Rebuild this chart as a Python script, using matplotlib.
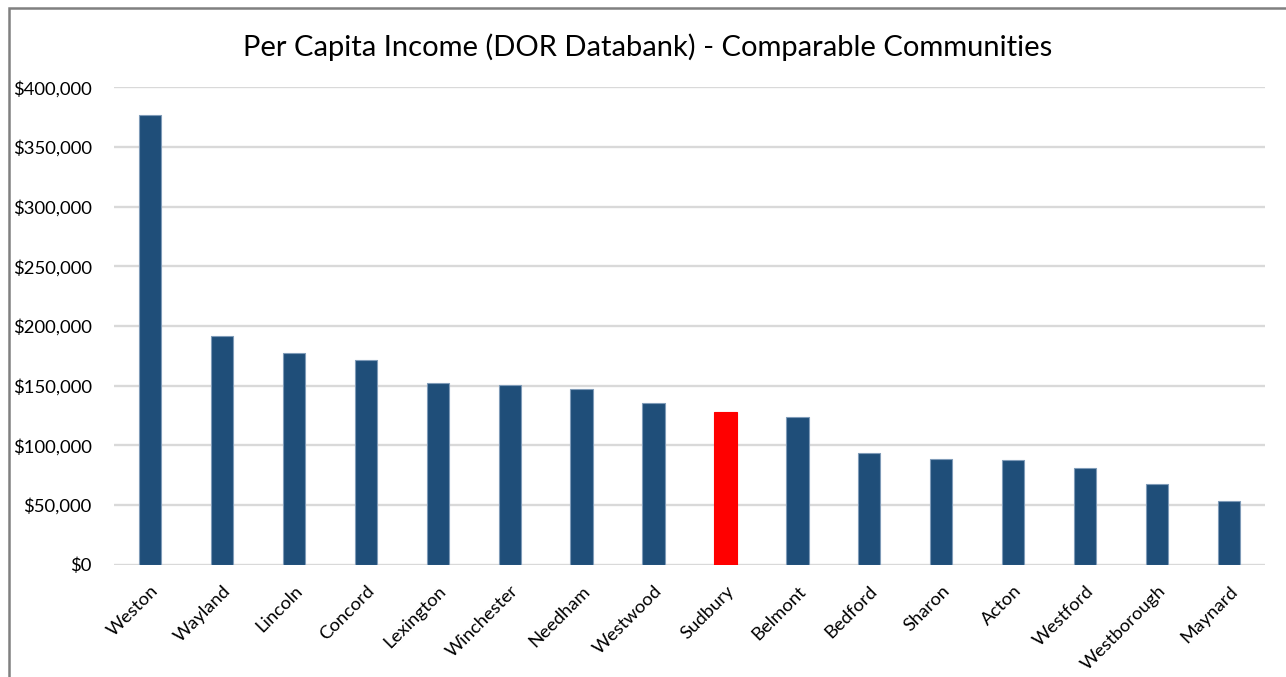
import matplotlib.pyplot as plt
from matplotlib.ticker import FuncFormatter
from matplotlib.patches import Rectangle

plt.rcParams['font.family'] = ['Lato', 'DejaVu Sans']

towns = ['Weston', 'Wayland', 'Lincoln', 'Concord', 'Lexington', 'Winchester',
         'Needham', 'Westwood', 'Sudbury', 'Belmont', 'Bedford', 'Sharon',
         'Acton', 'Westford', 'Westborough', 'Maynard']
income = [376800, 191600, 177400, 171500, 152200, 150600, 147300, 135600,
          127900, 124000, 93600, 88300, 87700, 80800, 67600, 53400]
highlight = 'Sudbury'

fig = plt.figure(figsize=(12.86, 6.77), dpi=100)
ax = fig.add_axes([114/1286, 112.3/677, (1265-114)/1286, (589.7-112.3)/677])

colors = ['#FF0000' if t == highlight else '#1F4E79' for t in towns]
edges = ['#FF0000' if t == highlight else '#7f9bb8' for t in towns]
ax.bar(range(len(towns)), income, width=0.31, color=colors,
       edgecolor=edges, linewidth=0.8, zorder=3)

ax.set_xlim(-0.5, len(towns) - 0.5)
ax.set_ylim(0, 400000)
ax.set_yticks(range(0, 400001, 50000))
ax.yaxis.set_major_formatter(FuncFormatter(lambda v, p: f'${v:,.0f}'))
ax.grid(axis='y', color='#d9d9d9', linewidth=1.7, zorder=0)
ax.set_axisbelow(True)
for s in ['top', 'right', 'left', 'bottom']:
    ax.spines[s].set_visible(False)
ax.tick_params(axis='both', length=0, colors='black')
ax.tick_params(axis='y', pad=16, labelsize=13.3)
ax.set_xticks(range(len(towns)))
ax.set_xticklabels(towns, rotation=45, ha='right', rotation_mode='anchor')
ax.tick_params(axis='x', pad=13, labelsize=13.3)

fig.text(648/1286, 1 - 47/677, 'Per Capita Income (DOR Databank) - Comparable Communities',
         ha='center', va='center', fontsize=21)

# chart frame (only top and left edges are visible)
fig.patches.append(Rectangle((9/1286, -0.1), 1.2, 1 - 8/677 + 0.1,
                             transform=fig.transFigure, fill=False,
                             edgecolor='#808080', linewidth=1.8))

fig.savefig('out.png', dpi=100)
